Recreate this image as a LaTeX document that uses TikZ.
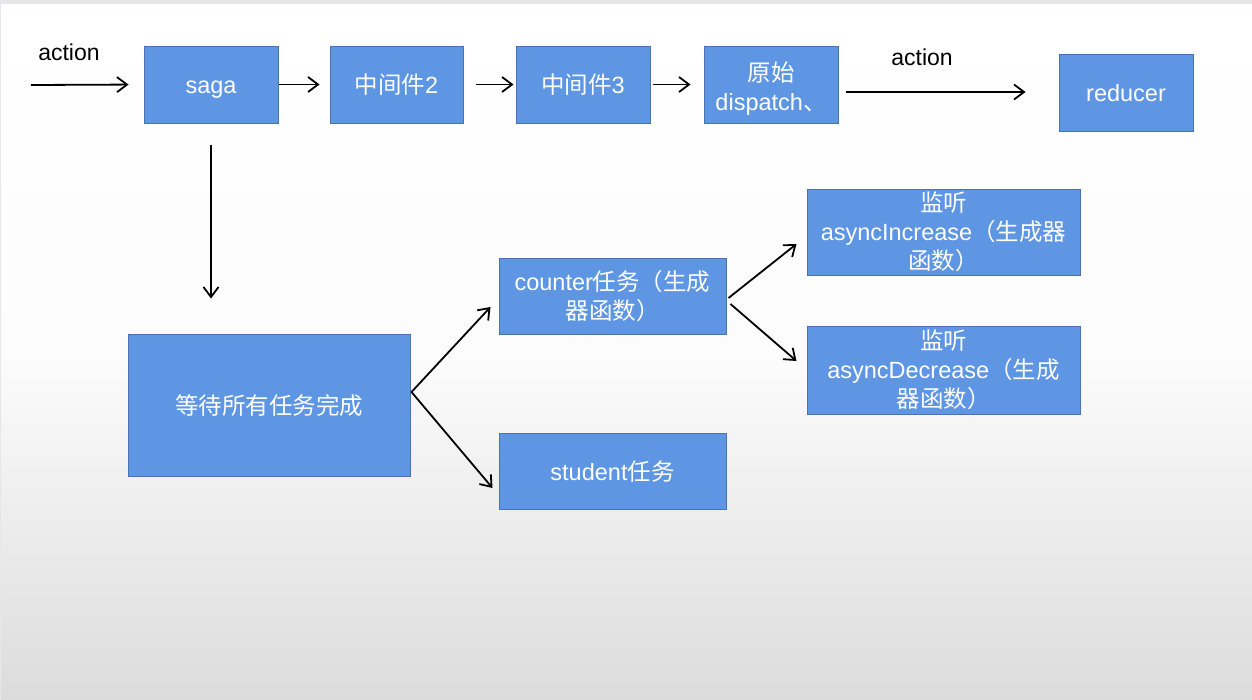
\documentclass[tikz,border=0pt]{standalone}
\usepackage{fontspec}
\setmainfont{Liberation Sans}
\newfontfamily\cjk{Noto Sans CJK SC}
\usetikzlibrary{arrows.meta,calc}
\definecolor{boxfill}{HTML}{5E96E3}
\definecolor{boxline}{HTML}{4A72B0}
\definecolor{bgbot}{HTML}{DCDCDC}
\definecolor{topstrip}{HTML}{E6E7E9}
\newcommand\mystrut{\rule[-8pt]{0pt}{34pt}}
\tikzset{
  box/.style={draw=boxline, line width=1pt, fill=boxfill, text=white, align=center,
    inner sep=0pt, font=\fontsize{23.5}{29}\selectfont},
  conn/.style={draw=black, line width=1.8pt, -{Straight Barb[length=10pt,width=15pt,line width=1.8pt]}},
  lbl/.style={text=black, inner sep=0pt, font=\fontsize{23}{26}\selectfont}
}
\begin{document}
\begin{tikzpicture}[x=1pt,y=-1pt]
\useasboundingbox (0,0) rectangle (1252,699);
\fill[topstrip] (0,0) rectangle (1252,4);
\shade[top color=white, bottom color=bgbot, middle color=white!92!bgbot] (0,4) rectangle (1252,699);
\draw[topstrip, line width=1pt] (0.5,4) -- (0.5,699);

\node[box, minimum width=134pt, minimum height=77pt] (saga) at (211,84.5) {\mystrut saga};
\node[box, minimum width=133pt, minimum height=77pt] (m2) at (396.5,84.5) {\mystrut{\cjk 中间件}2};
\node[box, minimum width=134pt, minimum height=77pt] (m3) at (583,84.5) {\mystrut{\cjk 中间件}3};
\node[box, minimum width=134pt, minimum height=77pt] (orig) at (771,84.5) {\rule{0pt}{27pt}{\cjk 原始}\\dispatch{\cjk 、}};
\node[box, minimum width=134pt, minimum height=77pt] (red) at (1126,92.5) {\mystrut reducer};
\node[box, minimum width=282pt, minimum height=142pt] (wait) at (269,405) {\mystrut\cjk 等待所有任务完成};
\node[box, minimum width=227pt, minimum height=76pt] (cnt) at (612.5,296) {counter{\cjk 任务（生成}\\{\cjk 器函数）}};
\node[box, minimum width=227pt, minimum height=76pt] (stu) at (612.5,471) {\mystrut student{\cjk 任务}};
\node[box, minimum width=273pt, minimum height=86pt] (inc) at (943.5,232) {{\cjk 监听}\\asyncIncrease{\cjk （生成器}\\{\cjk 函数）}};
\node[box, minimum width=273pt, minimum height=88pt] (dec) at (943.5,370) {{\cjk 监听}\\asyncDecrease{\cjk （生成}\\{\cjk 器函数）}};

\node[lbl] (l1) at (69,52) {action};
\node[lbl] (l2) at (922,57) {action};

\coordinate (a0) at (31,85);
\draw[conn, shorten >=15pt] (a0) -- (saga.west);
\draw[conn, shorten >=10pt] (saga.east) -- (m2.west);
\draw[conn, shorten <=12pt, shorten >=2pt] (m2.east) -- (m3.west);
\draw[conn, shorten <=2pt, shorten >=13pt] (m3.east) -- (orig.west);
\draw[conn] ($(orig.east)+(7,7.5)$) -- ($(red.west)+(-33,-0.5)$);
\draw[conn, shorten <=21pt, shorten >=35pt] (saga.south) -- (saga.south |- wait.north);
\coordinate (wfork) at ($(wait.east)+(1,-13)$);
\draw[conn] (wfork) -- ($(cnt.west)+(-8,11)$);
\draw[conn] (wfork) -- ($(stu.west)+(-6,17)$);
\draw[conn] ($(cnt.east)+(2,2)$) -- ($(inc.west)+(-10,12)$);
\draw[conn] ($(cnt.east)+(4,8)$) -- ($(dec.west)+(-10,-9)$);
\end{tikzpicture}
\end{document}
